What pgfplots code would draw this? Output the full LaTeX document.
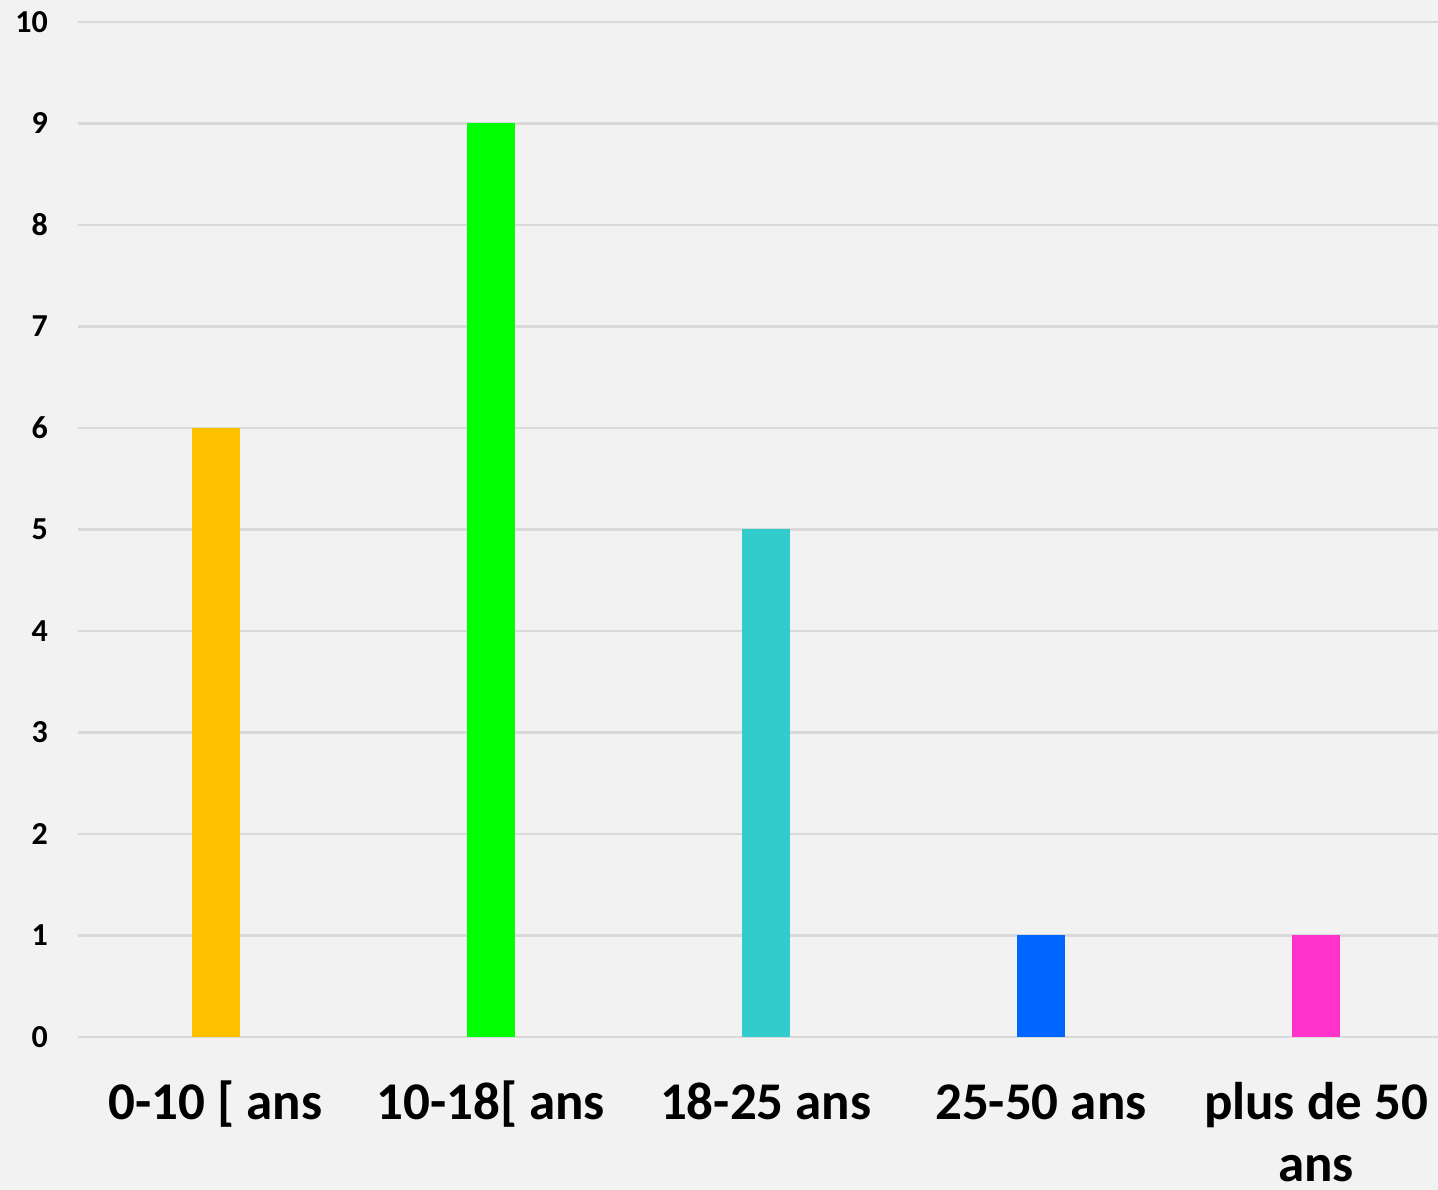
\documentclass[border=0pt]{standalone}
\usepackage{pgfplots}
\pgfplotsset{compat=1.18}
\usepackage{fontspec}
\setmainfont{Carlito}
\definecolor{bg}{HTML}{F2F2F2}
\definecolor{gridc}{HTML}{D9D9D9}
\definecolor{c1}{HTML}{FFC000}
\definecolor{c2}{HTML}{00FF00}
\definecolor{c3}{HTML}{33CCCC}
\definecolor{c4}{HTML}{0066FF}
\definecolor{c5}{HTML}{FF33CC}
\begin{document}
\begin{tikzpicture}
\fill[bg] (0,0) rectangle (1438pt,1190pt);
\begin{axis}[
  at={(78pt,153pt)}, anchor=south west,
  scale only axis, width=1360pt, height=1015pt,
  xmin=-0.5, xmax=4.4436, ymin=0, ymax=10,
  clip=false,
  axis line style={draw=none},
  major tick length=0pt,
  ymajorgrids, grid style={gridc, line width=2.5pt},
  ytick={0,1,...,10},
  xtick={0,1,2,3,4},
  xticklabels={{\vphantom{[}0-10 [ ans},{\vphantom{[}10-18[ ans},{\vphantom{[}18-25 ans},{\vphantom{[}25-50 ans},{\vphantom{[}plus de 50\\ans}},
  /pgf/number format/assume math mode=true,
  yticklabel style={font=\fontsize{32}{38}\selectfont\bfseries, inner sep=0pt, xshift=-30pt},
  xticklabel style={font=\fontsize{53}{62}\selectfont\bfseries, inner sep=0pt, anchor=north, align=center, yshift=-44pt},
  ybar, bar width=48pt,
]
\addplot[fill=c1, draw=none, bar shift=0pt] coordinates {(0,6)};
\addplot[fill=c2, draw=none, bar shift=0pt] coordinates {(1,9)};
\addplot[fill=c3, draw=none, bar shift=0pt] coordinates {(2,5)};
\addplot[fill=c4, draw=none, bar shift=0pt] coordinates {(3,1)};
\addplot[fill=c5, draw=none, bar shift=0pt] coordinates {(4,1)};
\end{axis}
\pgfresetboundingbox
\useasboundingbox (0,0) rectangle (1438pt,1190pt);
\end{tikzpicture}
\end{document}
